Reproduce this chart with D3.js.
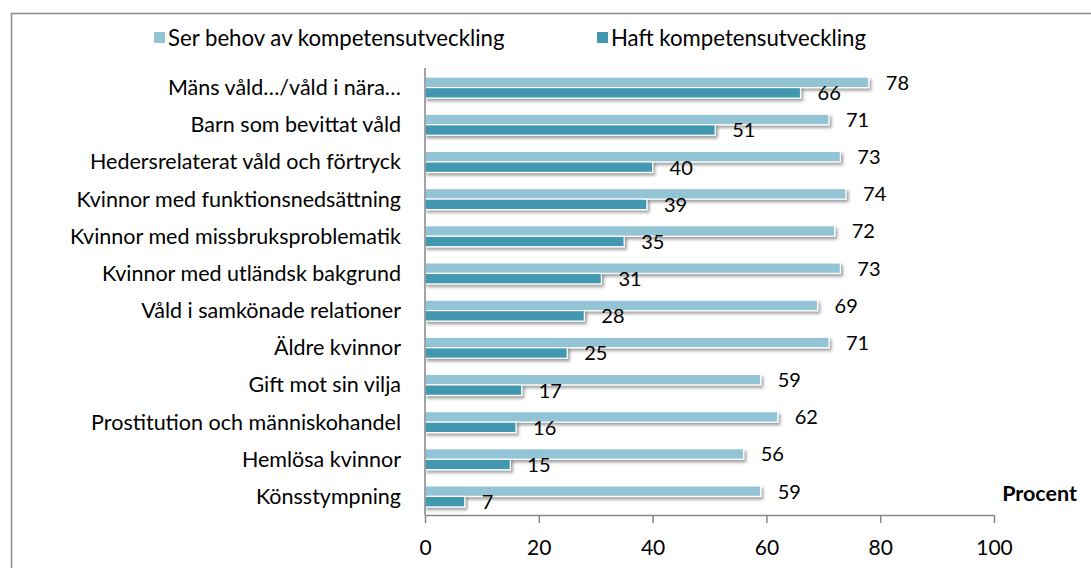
<!DOCTYPE html>
<meta charset="utf-8">
<style>
body { margin: 0; background: #fff; font-family: Lato, "Open Sans", sans-serif; color: #000; }
.axis path, .axis line { fill: none; stroke: #868686; stroke-width: 1.5; }
.axis text { font-size: 21px; fill: #000; font-family: Lato, sans-serif; }
</style>
<body>
<script src="https://d3js.org/d3.v7.min.js"></script>
<script>

// data
var categories = [
  "Mäns våld…/våld i nära…",
  "Barn som bevittat våld",
  "Hedersrelaterat våld och förtryck",
  "Kvinnor med funktionsnedsättning",
  "Kvinnor med missbruksproblematik",
  "Kvinnor med utländsk bakgrund",
  "Våld i samkönade relationer",
  "Äldre kvinnor",
  "Gift mot sin vilja",
  "Prostitution och människohandel",
  "Hemlösa kvinnor",
  "Könsstympning"
];
var serBehov = [78, 71, 73, 74, 72, 73, 69, 71, 59, 62, 56, 59];
var haft =     [66, 51, 40, 39, 35, 31, 28, 25, 17, 16, 15, 7];
var seriesNames = ["Ser behov av kompetensutveckling", "Haft kompetensutveckling"];
var xTicks = [0, 20, 40, 60, 80, 100];

var colors = ["#93c4d6", "#4398b0"];

var W = 1091, H = 568;
var svg = d3.select("body").append("svg")
    .attr("width", W)
    .attr("height", H);

// shadow for bars
var defs = svg.append("defs");
var f = defs.append("filter").attr("id", "shadow")
    .attr("x", "-5%").attr("y", "-60%").attr("width", "115%").attr("height", "280%");
f.append("feDropShadow")
    .attr("dx", 2).attr("dy", 2.5).attr("stdDeviation", 1.6)
    .attr("flood-color", "#000").attr("flood-opacity", 0.38);

// outer border
svg.append("rect")
    .attr("x", 11.5).attr("y", 13.5)
    .attr("width", W + 10).attr("height", H + 10)
    .attr("fill", "none")
    .attr("stroke", "#898989")
    .attr("stroke-width", 1.5);

var x = d3.scaleLinear().domain([0, 100]).range([425, 994]);
var y = d3.scaleBand().domain(categories).range([69, 515]);

var barH = 10.5;
var offTop = (y.bandwidth() - 2 * barH) / 2;

// bars
var rows = svg.selectAll(".row")
    .data(categories)
  .enter().append("g")
    .attr("class", "row")
    .attr("transform", function(d) { return "translate(0," + y(d) + ")"; });

[serBehov, haft].forEach(function(vals, s) {
  rows.append("rect")
      .attr("x", x(0))
      .attr("y", offTop + s * barH)
      .attr("width", function(d, i) { return x(vals[i]) - x(0); })
      .attr("height", barH)
      .attr("fill", colors[s])
      .attr("stroke", "#fff")
      .attr("stroke-width", 1.2)
      .attr("filter", "url(#shadow)");

  rows.append("text")
      .attr("x", function(d, i) { return x(vals[i]) + 17; })
      .attr("y", offTop + s * barH + barH / 2 + 0.5)
      .attr("dy", ".35em")
      .style("font-size", "20px")
      .text(function(d, i) { return vals[i]; });
});

// category labels
rows.append("text")
    .attr("x", 401)
    .attr("y", y.bandwidth() / 2)
    .attr("dy", ".35em")
    .attr("text-anchor", "end")
    .style("font-size", "21.5px")
    .text(function(d) { return d; });

// y axis line
svg.append("line")
    .attr("x1", x(0)).attr("x2", x(0))
    .attr("y1", 68).attr("y2", 515)
    .attr("stroke", "#868686").attr("stroke-width", 1.5);

// x axis
svg.append("g")
    .attr("class", "axis")
    .attr("transform", "translate(0,515)")
    .call(d3.axisBottom(x).tickValues(xTicks).tickSize(8).tickSizeOuter(0).tickPadding(17));

// Procent
svg.append("text")
    .attr("x", 1077)
    .attr("y", 493)
    .attr("dy", ".35em")
    .attr("text-anchor", "end")
    .style("font-size", "21.5px")
    .style("font-weight", "bold")
    .text("Procent");

// legend
var legendX = [154, 597];
var legend = svg.selectAll(".legend")
    .data(seriesNames)
  .enter().append("g")
    .attr("class", "legend")
    .attr("transform", function(d, i) { return "translate(" + legendX[i] + ",32)"; });

legend.append("rect")
    .attr("width", 11)
    .attr("height", 11)
    .attr("fill", function(d, i) { return colors[i]; });

legend.append("text")
    .attr("x", 14)
    .attr("y", 6)
    .attr("dy", ".35em")
    .style("font-size", "22.2px")
    .text(function(d) { return d; });

</script>
</body>
